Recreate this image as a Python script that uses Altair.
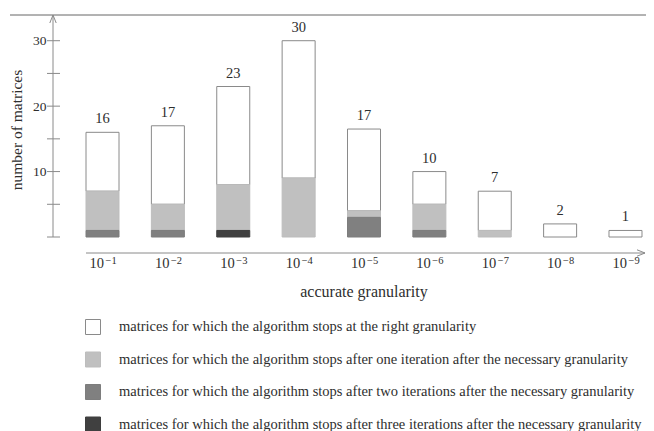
import altair as alt
import pandas as pd

# ---- data ----
exponents = ["\u22121", "\u22122", "\u22123", "\u22124", "\u22125", "\u22126", "\u22127", "\u22128", "\u22129"]
right_gran = [9, 12, 15, 21, 12.5, 5, 6, 2, 1]
one_iter = [6, 4, 7, 9, 1, 4, 1, 0, 0]
two_iter = [1, 1, 0, 0, 3, 1, 0, 0, 0]
three_iter = [0, 0, 1, 0, 0, 0, 0, 0, 0]
total_labels = ["16", "17", "23", "30", "17", "10", "7", "2", "1"]
y_ticks = [0, 5, 10, 15, 20, 25, 30]
y_labels = [10, 20, 30]
legend_labels = [
    "matrices for which the algorithm stops at the right granularity",
    "matrices for which the algorithm stops after one iteration after the necessary granularity",
    "matrices for which the algorithm stops after two iterations after the necessary granularity",
    "matrices for which the algorithm stops after three iterations after the necessary granularity",
]
fill_colors = ["#ffffff", "#c0c0c0", "#808080", "#404040"]
stroke_colors = ["#8a8a8a", "#bdbdbd", "#7d7d7d", "#3e3e3e"]

FONT = "Liberation Serif"
TXT = "#2e2e2e"
AX = "#8a8a8a"

series = [right_gran, one_iter, two_iter, three_iter]
rows = []
for k, vals in enumerate(series):
    for i, v in enumerate(vals):
        if v > 0:
            rows.append({"i": i, "k": k, "cat": legend_labels[k], "value": v})
bars_df = pd.DataFrame(rows)

tot_df = pd.DataFrame({
    "i": list(range(len(total_labels))),
    "top": [sum(s[i] for s in series) for i in range(len(total_labels))],
    "label": total_labels,
    "exp": exponents,
})
ticks_df = pd.DataFrame({"t": y_ticks})
zero_df = pd.DataFrame({"lo": [0]})

W, H = 593, 238
xs = alt.Scale(domain=[-0.7572, 8.3136], nice=False, zero=False, padding=0)
ys = alt.Scale(domain=[-2.445, 33.93], nice=False, zero=False, padding=0)

leg = alt.Legend(
    orient="none", legendX=32, legendY=304, title=None, symbolType="square",
    symbolSize=225, symbolStrokeWidth=1, labelFont=FONT, labelFontSize=14.5,
    labelColor=TXT, labelLimit=0, rowPadding=12.5, labelOffset=18, padding=0,
)

bars = alt.Chart(bars_df).mark_bar(size=33, strokeWidth=1).encode(
    x=alt.X("i:Q", scale=xs, axis=None),
    y=alt.Y("value:Q", stack="zero", scale=ys,
            axis=alt.Axis(values=y_labels, title=None, domain=False, ticks=False, grid=False,
                          labelPadding=7, labelFont=FONT, labelFontSize=13.5, labelColor=TXT)),
    fill=alt.Fill("cat:N", scale=alt.Scale(domain=legend_labels, range=fill_colors), legend=leg),
    stroke=alt.Stroke("cat:N", scale=alt.Scale(domain=legend_labels, range=stroke_colors), legend=leg),
    order=alt.Order("k:Q", sort="descending"),
)

top_rule = alt.Chart(zero_df).mark_rule(color="#666666", strokeWidth=1).encode(
    x=alt.value(-43), x2=alt.value(W), y=alt.value(0))

y_line = alt.Chart(zero_df).mark_rule(color=AX, strokeWidth=1).encode(
    x=alt.value(0), y=alt.Y("lo:Q", scale=ys), y2=alt.value(0))

y_arrow = alt.Chart(zero_df).mark_point(
    shape="M-0.4,1L0,0L0.4,1", filled=False, size=256, strokeWidth=1, color=AX, opacity=1
).encode(x=alt.value(0), y=alt.value(0))

y_tick_rules = alt.Chart(ticks_df).mark_rule(color=AX, strokeWidth=1).encode(
    y=alt.Y("t:Q", scale=ys), x=alt.value(-6), x2=alt.value(7))

value_labels = alt.Chart(tot_df).mark_text(
    font=FONT, fontSize=14.5, color=TXT, dy=-9, baseline="alphabetic"
).encode(x=alt.X("i:Q", scale=xs), y=alt.Y("top:Q", scale=ys), text="label:N")

x_line = alt.Chart(zero_df).mark_rule(color=AX, strokeWidth=1).encode(
    x=alt.value(33), x2=alt.value(W - 1), y=alt.value(H))

x_arrow = alt.Chart(zero_df).mark_point(
    shape="M-1,-0.4L0,0L-1,0.4", filled=False, size=256, strokeWidth=1, color=AX, opacity=1
).encode(x=alt.value(W - 1), y=alt.value(H))

tick_base = alt.Chart(tot_df).mark_text(
    font=FONT, fontSize=14.5, color=TXT, align="right", baseline="alphabetic", dx=1.5
).encode(x=alt.X("i:Q", scale=xs), y=alt.value(253), text=alt.value("10"))

tick_exp = alt.Chart(tot_df).mark_text(
    font=FONT, fontSize=10.5, color=TXT, align="left", baseline="alphabetic", dx=3
).encode(x=alt.X("i:Q", scale=xs), y=alt.value(249), text="exp:N")

x_title = alt.Chart(zero_df).mark_text(
    font=FONT, fontSize=16, color=TXT, align="center", baseline="alphabetic"
).encode(x=alt.datum(4, scale=xs), y=alt.value(282), text=alt.value("accurate granularity"))

y_title = alt.Chart(zero_df).mark_text(
    font=FONT, fontSize=15.5, color=TXT, align="center", baseline="middle", angle=270
).encode(x=alt.value(-36), y=alt.value(115), text=alt.value("number of matrices"))

chart = alt.layer(
    top_rule, y_tick_rules, y_line, y_arrow, bars, value_labels, x_line, x_arrow,
    tick_base, tick_exp, x_title, y_title
).properties(
    width=W, height=H,
    autosize=alt.AutoSizeParams(type="none"),
    padding={"left": 45, "top": 7, "right": 0, "bottom": 178},
    background="white",
).configure_view(stroke=None)

chart.save("out.html", embed_options={"renderer": "svg", "actions": False})
